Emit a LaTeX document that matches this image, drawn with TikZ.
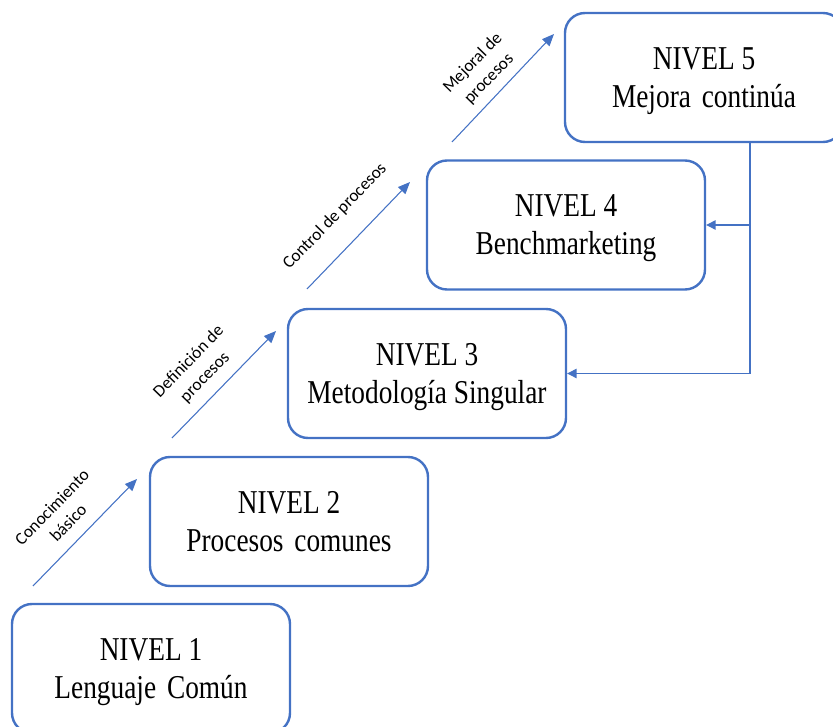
\documentclass[tikz,border=0pt]{standalone}
\usepackage{fontspec}
\setmainfont{Liberation Serif}
\newfontfamily\levelfont[FakeStretch=0.82]{Liberation Serif}
\newfontfamily\stepfont{Carlito}
\usetikzlibrary{arrows.meta}
\definecolor{accent}{HTML}{4472C4}

\begin{document}
\begin{tikzpicture}[x=0.75pt,y=-0.75pt,
  levelbox/.style={draw=accent, line width=1.8pt, rounded corners=15pt,
    minimum width=208.5pt, minimum height=96.75pt, inner sep=0pt},
  leveltext/.style={anchor=base, inner sep=0pt,
    font=\levelfont\fontsize{25}{29}\selectfont},
  climb/.style={draw=accent, line width=0.8pt, -{Triangle[length=9pt,width=7.5pt]}},
  feedback/.style={draw=accent, line width=0.9pt, -{Triangle[length=7pt,width=7pt]}},
  steplabel/.style={font=\stepfont\fontsize{13}{17}\selectfont,
    align=center, rotate=45.8, inner sep=0pt}]
\useasboundingbox (0,0) rectangle (833,727);

% level boxes
\node[levelbox] (n1) at (151,668.5) {};
\node[levelbox] (n2) at (289,521.5) {};
\node[levelbox] (n3) at (427,373.5) {};
\node[levelbox] (n4) at (566,225) {};
\node[levelbox] (n5) at (704,77.5) {};

% box captions
\node[leveltext] (t1a) at ([yshift=-43.1pt]n1.north) {NIVEL 1};
\node[leveltext] (t1b) at ([yshift=-71.6pt]n1.north) {Lenguaje\hspace{0.12em} Común};
\node[leveltext] (t2a) at ([yshift=-43.1pt]n2.north) {NIVEL 2};
\node[leveltext] (t2b) at ([yshift=-71.6pt]n2.north) {Procesos\hspace{0.12em} comunes};
\node[leveltext] (t3a) at ([yshift=-43.1pt]n3.north) {NIVEL 3};
\node[leveltext] (t3b) at ([yshift=-71.6pt]n3.north) {Metodología Singular};
\node[leveltext] (t4a) at ([yshift=-43.1pt]n4.north) {NIVEL 4};
\node[leveltext] (t4b) at ([yshift=-71.6pt]n4.north) {Benchmarketing};
\node[leveltext] (t5a) at ([yshift=-43.1pt]n5.north) {NIVEL 5};
\node[leveltext] (t5b) at ([yshift=-71.6pt]n5.north) {Mejora\hspace{0.12em} continúa};

% rising step arrows
\coordinate (a1s) at (33,586);  \coordinate (a1e) at (137,479);
\coordinate (a2s) at (172,438); \coordinate (a2e) at (276,331);
\coordinate (a3s) at (307,289); \coordinate (a3e) at (410,182);
\coordinate (a4s) at (452,142); \coordinate (a4e) at (554,34);
\draw[climb] (a1s) -- (a1e);
\draw[climb] (a2s) -- (a2e);
\draw[climb] (a3s) -- (a3e);
\draw[climb] (a4s) -- (a4e);

\node[steplabel] (l1) at (60,515) {Conocimiento\\básico};
\node[steplabel] (l2) at (197,369.5) {Definición de\\procesos};
\node[steplabel] (l3) at (335,216.5) {Control de procesos};
\node[steplabel] (l4) at (481,71) {Mejoral de\\procesos};

% feedback from level 5 to levels 4 and 3
\coordinate (fb) at (750,225);
\draw[feedback] (n5.south -| fb) |- (n3.east);
\draw[feedback] (fb) -- (n4.east);
\end{tikzpicture}
\end{document}
